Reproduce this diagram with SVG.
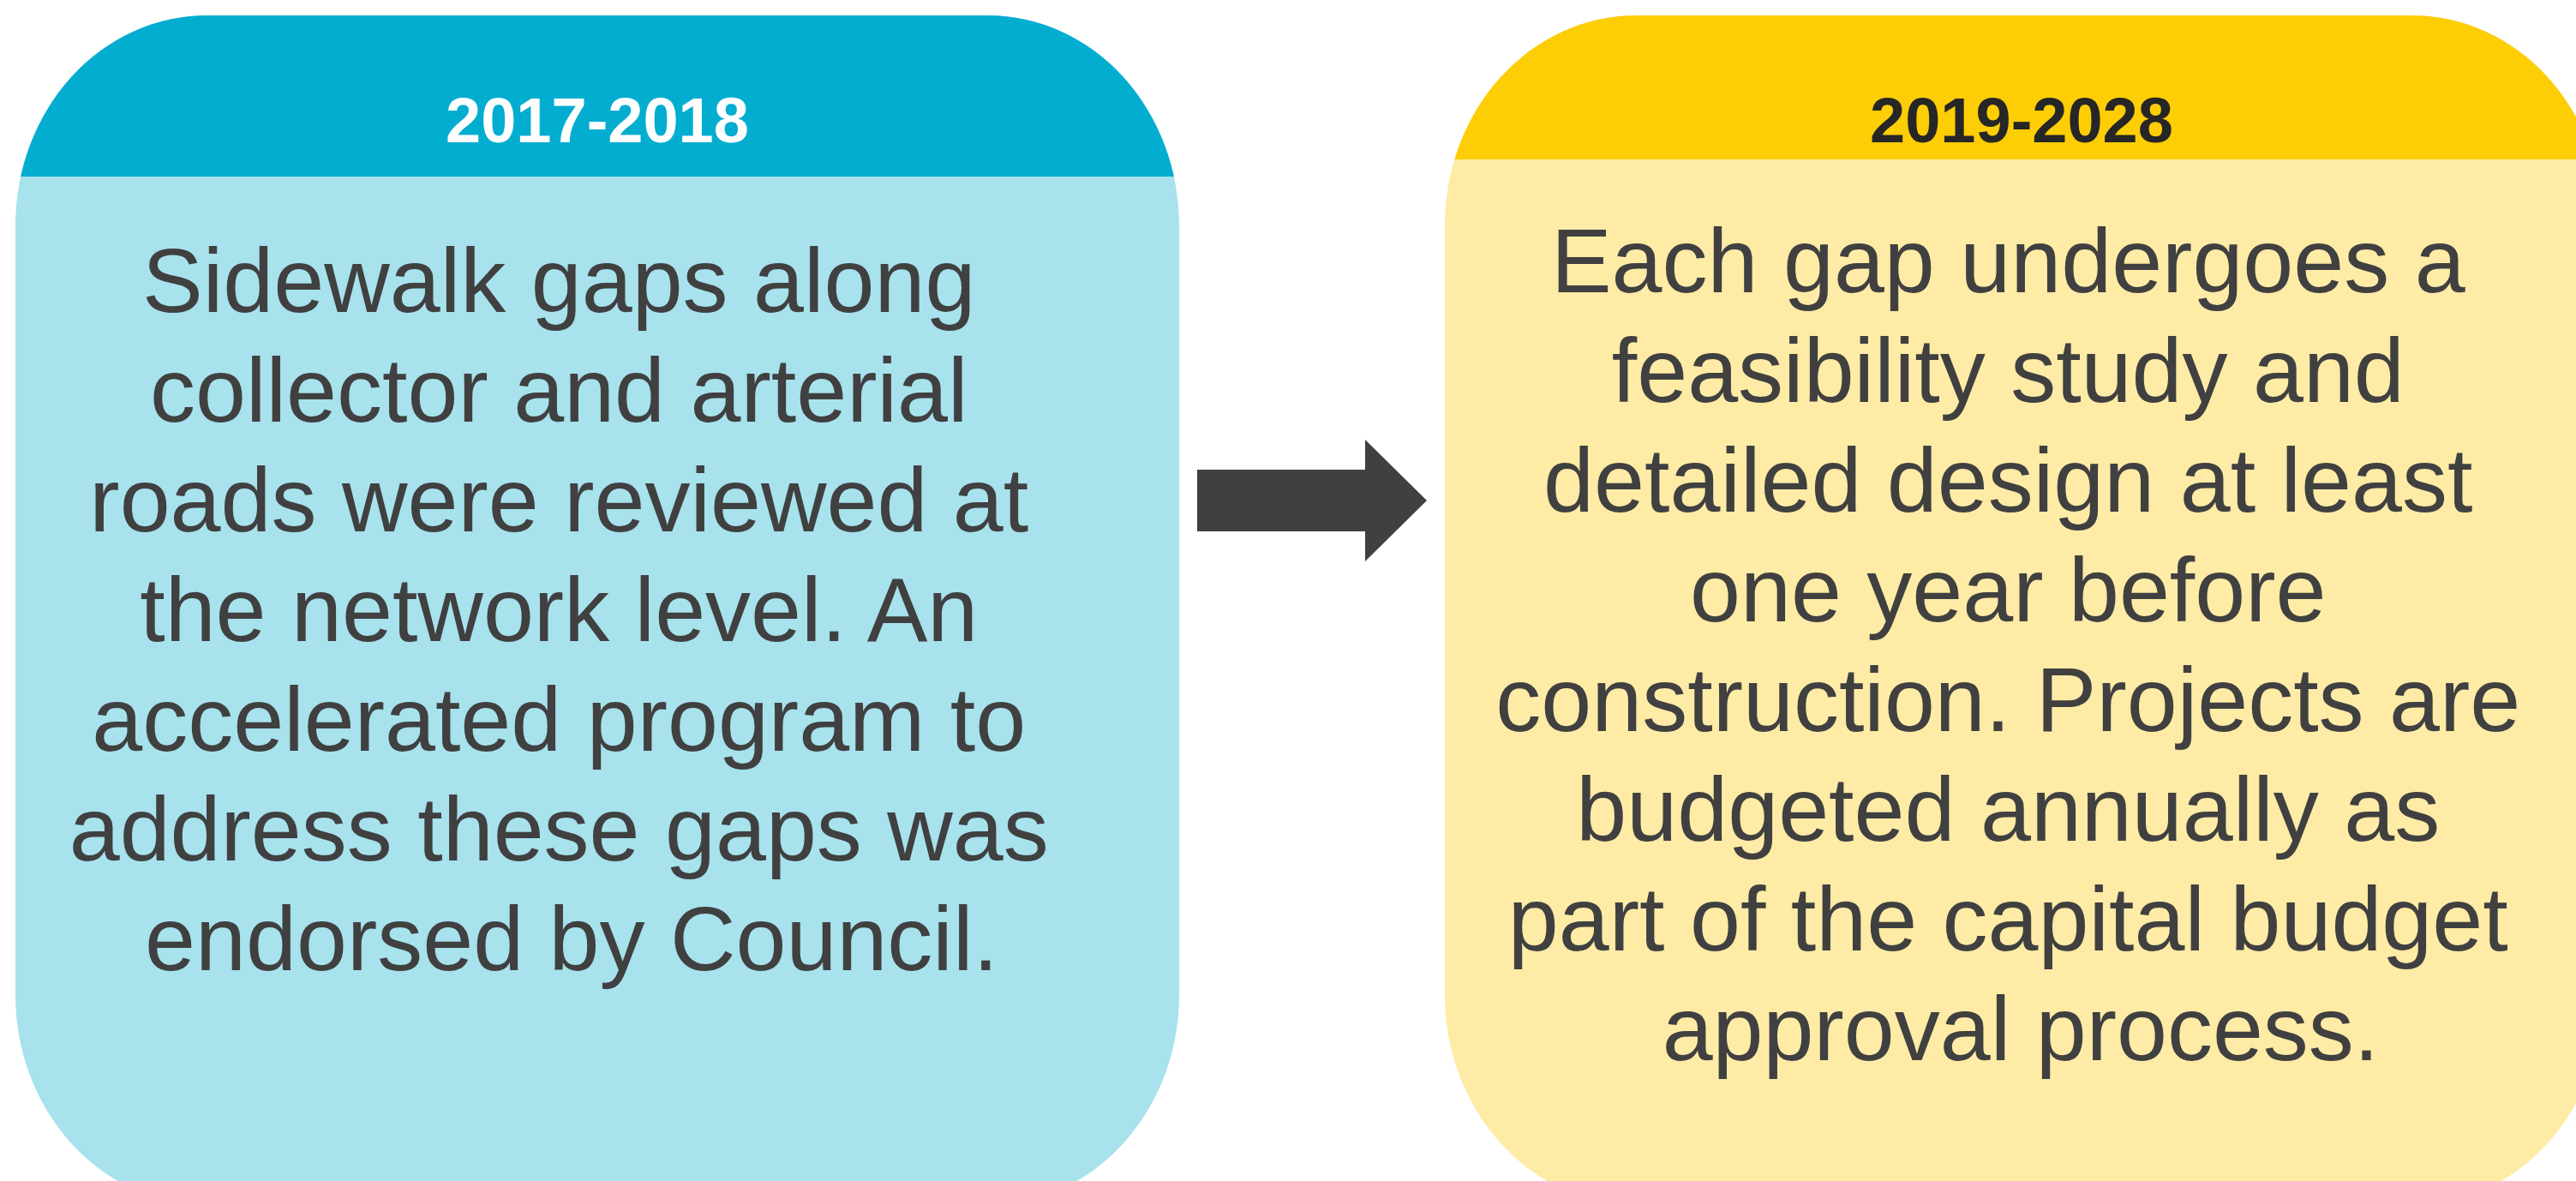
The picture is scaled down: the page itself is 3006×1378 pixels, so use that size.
<svg xmlns="http://www.w3.org/2000/svg" width="3006" height="1378" viewBox="0 0 3006 1378">
  <style>
    .head { font-family: "Liberation Sans", Arial, sans-serif; font-weight: bold; font-size: 74px; text-anchor: middle; }
    .body { font-family: "Liberation Sans", Arial, sans-serif; font-size: 106px; text-anchor: middle; fill: #404040; }
  </style>
  <defs>
    <clipPath id="clipL"><rect x="18" y="18" width="1358" height="1388" rx="223" ry="245"/></clipPath>
    <clipPath id="clipR"><rect x="1686" y="18" width="1352" height="1388" rx="223" ry="245"/></clipPath>
  </defs>
  <rect width="3006" height="1378" fill="#ffffff"/>
  <g id="node-2017-2018">
    <g clip-path="url(#clipL)">
      <rect x="18" y="18" width="1358" height="1388" fill="#A7E2ED"/>
      <rect x="18" y="18" width="1358" height="188" fill="#03ADD0"/>
    </g>
    <text class="head" x="697" y="166" fill="#ffffff">2017-2018</text>
    <text class="body" x="667">
      <tspan x="667" y="364">Sidewalk gaps along</tspan>
      <tspan x="667" y="492">collector and arterial</tspan>
      <tspan x="667" y="620">roads were reviewed at</tspan>
      <tspan x="667" y="748">the network level. An</tspan>
      <tspan x="667" y="876">accelerated program to</tspan>
      <tspan x="667" y="1004">address these gaps was</tspan>
      <tspan x="667" y="1132">endorsed by Council.</tspan>
    </text>
  </g>
  <g id="node-2019-2028">
    <g clip-path="url(#clipR)">
      <rect x="1686" y="18" width="1352" height="1388" fill="#FEEBA6"/>
      <rect x="1686" y="18" width="1352" height="168" fill="#FDCD06"/>
    </g>
    <text class="head" x="2359" y="166" fill="#262626">2019-2028</text>
    <text class="body" x="2358">
      <tspan x="2358" y="341">Each gap undergoes a</tspan>
      <tspan x="2358" y="469">feasibility study and</tspan>
      <tspan x="2358" y="597">detailed design at least</tspan>
      <tspan x="2358" y="725">one year before</tspan>
      <tspan x="2358" y="853">construction. Projects are</tspan>
      <tspan x="2358" y="981">budgeted annually as</tspan>
      <tspan x="2358" y="1109">part of the capital budget</tspan>
      <tspan x="2358" y="1237">approval process.</tspan>
    </text>
  </g>
  <g id="connectors">
    <polygon points="1397,548 1593,548 1593,513 1665,584 1593,655 1593,620 1397,620" fill="#404040"/>
  </g>
</svg>
